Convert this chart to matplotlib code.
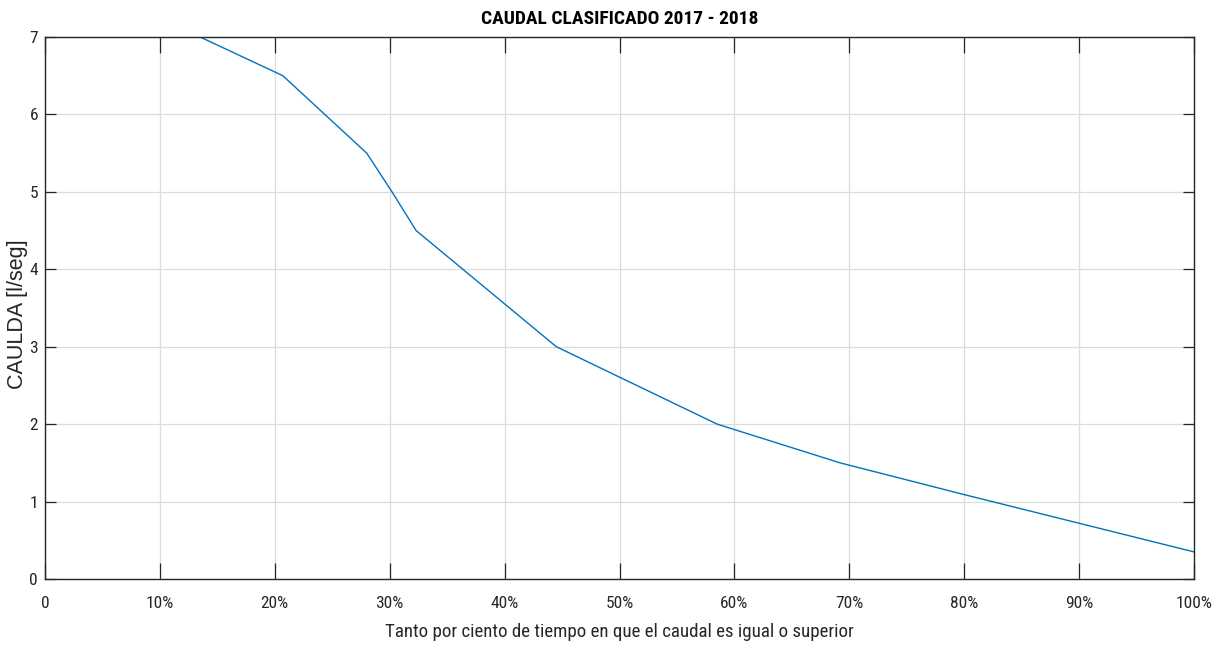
import matplotlib
matplotlib.use("Agg")
import matplotlib.pyplot as plt
from matplotlib import font_manager as fm
from matplotlib.ticker import FixedLocator, FixedFormatter

# Curva de caudales clasificados (porcentaje de tiempo vs caudal)
porcentaje = [13.5, 20.7, 28.0, 30.2, 32.3, 44.5, 58.5, 69.2, 80.0, 90.0, 100.0]
caudal = [7.0, 6.5, 5.5, 5.0, 4.5, 3.0, 2.0, 1.5, 1.09, 0.72, 0.35]

x_ticks = [0, 10, 20, 30, 40, 50, 60, 70, 80, 90, 100]
x_labels = ["0", "10%", "20%", "30%", "40%", "50%", "60%", "70%", "80%", "90%", "100%"]
y_ticks = [0, 1, 2, 3, 4, 5, 6, 7]

installed = {f.name for f in fm.fontManager.ttflist}
narrow = [f for f in ("Roboto Condensed", "Archivo Narrow", "Liberation Sans")
          if f in installed] + ["DejaVu Sans"]
regular = ["Liberation Sans", "DejaVu Sans"]

fig = plt.figure(figsize=(12.27, 6.46), dpi=100)
ax = fig.add_axes([45 / 1227, 1 - 579 / 646, (1194 - 45) / 1227, (579 - 37) / 646])

ax.plot(porcentaje, caudal, color="#0072BD", linewidth=1.0)

ax.set_xlim(0, 100)
ax.set_ylim(0, 7)
ax.xaxis.set_major_locator(FixedLocator(x_ticks))
ax.xaxis.set_major_formatter(FixedFormatter(x_labels))
ax.set_yticks(y_ticks)

ax.grid(True, color="#dcdcdc", linewidth=0.9)
ax.set_axisbelow(True)

for sp in ax.spines.values():
    sp.set_color("#262626")
    sp.set_linewidth(1.0)

ax.tick_params(axis="x", direction="in", length=11.5, width=0.9, color="#262626",
               top=True, bottom=True, pad=12.5, labelsize=12.5, labelcolor="#262626")
ax.tick_params(axis="y", direction="in", length=8, width=0.9, color="#262626",
               left=True, right=True, pad=5, labelsize=12.5, labelcolor="#262626")
for lab in ax.get_xticklabels() + ax.get_yticklabels():
    lab.set_family(narrow)

ax.set_title("CAUDAL CLASIFICADO 2017 - 2018", family=narrow, fontsize=14,
             fontweight="bold", color="black", pad=9.5)
ax.set_xlabel("Tanto por ciento de tiempo en que el caudal es igual o superior",
              family=narrow, fontsize=13.6, color="#262626", labelpad=8.5)
ax.set_ylabel("CAULDA [l/seg]", family=regular, fontsize=15.5, color="#262626")
ax.yaxis.set_label_coords(-0.0145, 0.489)

fig.savefig("out.png", dpi=100)
